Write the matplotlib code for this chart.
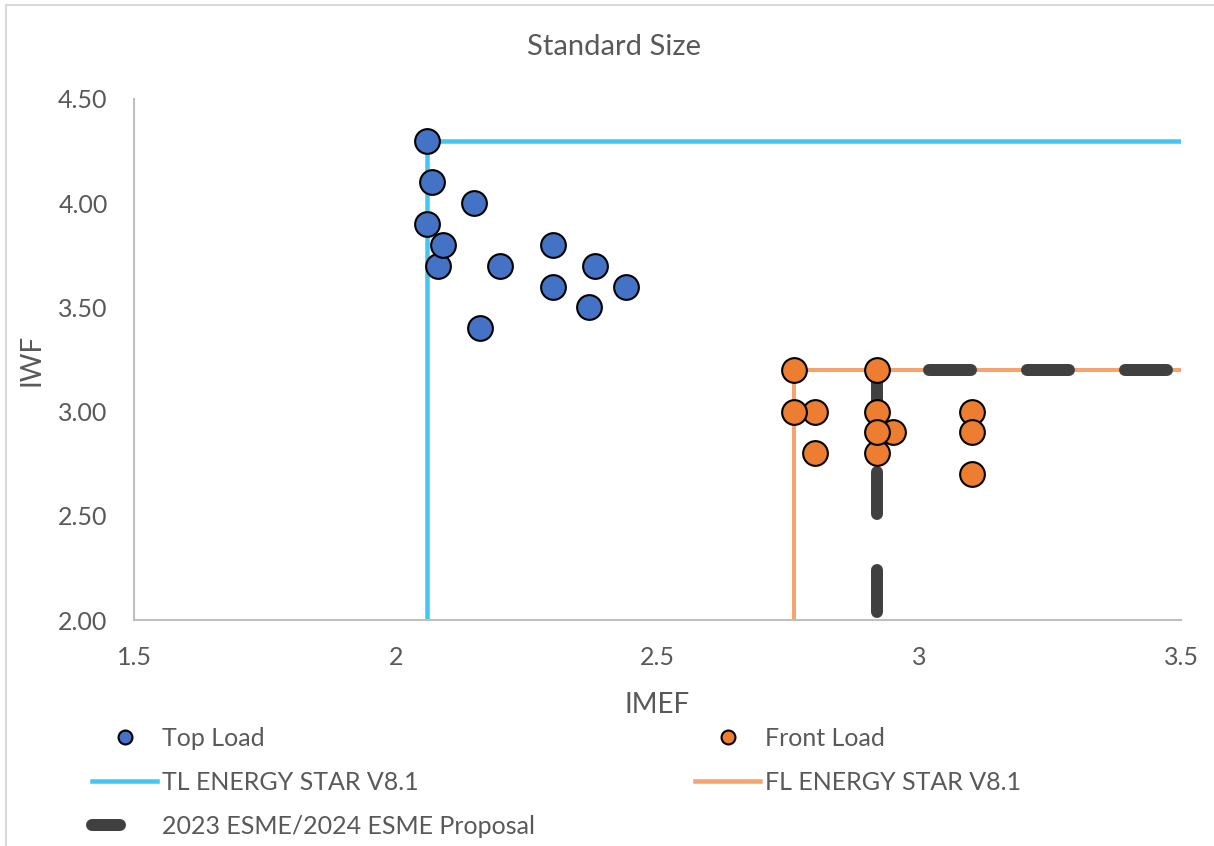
import matplotlib
matplotlib.use("Agg")
import matplotlib.pyplot as plt
from matplotlib.lines import Line2D
from matplotlib.patches import Rectangle

# ---- data ----
title = "Standard Size"
x_label = "IMEF"
y_label = "IWF"

top_load_imef = [2.06, 2.07, 2.15, 2.06, 2.08, 2.09, 2.20, 2.30, 2.38, 2.30, 2.44, 2.37, 2.16]
top_load_iwf = [4.30, 4.10, 4.00, 3.90, 3.70, 3.80, 3.70, 3.80, 3.70, 3.60, 3.60, 3.50, 3.40]

front_load_imef = [2.76, 2.92, 2.80, 2.76, 2.80, 2.95, 2.92, 2.92, 2.92, 3.10, 3.10, 3.10]
front_load_iwf = [3.20, 3.20, 3.00, 3.00, 2.80, 2.90, 3.00, 2.80, 2.90, 3.00, 2.90, 2.70]

tl_energy_star_imef = [2.06, 2.06, 3.50]
tl_energy_star_iwf = [2.00, 4.30, 4.30]

fl_energy_star_imef = [2.76, 2.76, 3.50]
fl_energy_star_iwf = [2.00, 3.20, 3.20]

esme_imef = [2.92, 2.92, 3.50]
esme_iwf = [2.00, 3.20, 3.20]

x_ticks = [1.5, 2.0, 2.5, 3.0, 3.5]
x_tick_labels = ["1.5", "2", "2.5", "3", "3.5"]
y_ticks = [2.0, 2.5, 3.0, 3.5, 4.0, 4.5]
y_tick_labels = ["2.00", "2.50", "3.00", "3.50", "4.00", "4.50"]

legend_labels = ["Top Load", "Front Load", "TL ENERGY STAR V8.1",
                 "FL ENERGY STAR V8.1", "2023 ESME/2024 ESME Proposal"]

# ---- style ----
BLUE = "#4472C4"
ORANGE = "#ED7D31"
TL_LINE = "#44C6F2"
FL_LINE = "#F4A46C"
ESME = "#404040"
TEXT = "#595959"
SPINE = "#BFBFBF"

plt.rcParams["font.family"] = ["Lato", "DejaVu Sans"]
plt.rcParams["lines.scale_dashes"] = False

W, H = 1214, 846
fig = plt.figure(figsize=(W / 100, H / 100), dpi=100)
fig.patch.set_facecolor("white")

def px(v):
    return v * 0.72  # pixels -> points at 100 dpi

ax = fig.add_axes([134 / W, 1 - 620 / H, (1181 - 134) / W, (620 - 99) / H])
ax.set_xlim(1.5, 3.5)
ax.set_ylim(2.0, 4.5)

ax.plot(tl_energy_star_imef, tl_energy_star_iwf, color=TL_LINE, lw=px(4.5),
        solid_joinstyle="miter", zorder=2)
ax.plot(fl_energy_star_imef, fl_energy_star_iwf, color=FL_LINE, lw=px(4),
        solid_joinstyle="miter", zorder=2)
ax.plot(esme_imef, esme_iwf, color=ESME, lw=px(12),
        linestyle=(px(90), (px(42), px(56))), dash_capstyle="round",
        zorder=3, clip_on=False)

ms = 17.8
for xs, ys, c in [(top_load_imef, top_load_iwf, BLUE),
                  (front_load_imef, front_load_iwf, ORANGE)]:
    for xv, yv in zip(xs, ys):
        ax.plot([xv], [yv], "o", ms=ms, mfc=c, mec="black", mew=1.5,
                zorder=5, clip_on=False)

for side in ["top", "right"]:
    ax.spines[side].set_visible(False)
for side in ["left", "bottom"]:
    ax.spines[side].set_color(SPINE)
    ax.spines[side].set_linewidth(1.5)

ax.set_xticks(x_ticks, x_tick_labels)
ax.set_yticks(y_ticks, y_tick_labels)
ax.tick_params(axis="x", length=0, pad=18.5, labelsize=18, labelcolor=TEXT)
ax.tick_params(axis="y", length=0, pad=19, labelsize=18, labelcolor=TEXT)

ax.set_xlabel(x_label, fontsize=20, color=TEXT)
ax.xaxis.label.set_va("center")
ax.xaxis.set_label_coords(0.5, -(705 - 620) / 521)
ax.set_ylabel(y_label, fontsize=20, color=TEXT)
ax.yaxis.label.set_va("center")
ax.yaxis.set_label_coords(-(134 - 32) / 1047, 0.5)

fig.text(614 / W, 1 - 47 / H, title, ha="center", va="center",
         fontsize=21, color=TEXT)

# ---- legend (two columns) ----
h_top = Line2D([], [], ls="none", marker="o", ms=10, mfc=BLUE, mec="black", mew=1.5)
h_front = Line2D([], [], ls="none", marker="o", ms=10, mfc=ORANGE, mec="black", mew=1.5)
h_tl = Line2D([], [], color=TL_LINE, lw=px(4.5))
h_fl = Line2D([], [], color=FL_LINE, lw=px(4.5))
h_esme = Line2D([], [], color=ESME, lw=px(12), linestyle=(0, (px(28), px(100))),
                dash_capstyle="round")

common = dict(frameon=False, fontsize=18, labelcolor=TEXT, borderpad=0,
              borderaxespad=0, handlelength=2.6, handletextpad=0.2,
              labelspacing=0.83, loc="upper left")
fig.legend([h_top, h_tl, h_esme], [legend_labels[0], legend_labels[2], legend_labels[4]],
           bbox_to_anchor=(92 / W, 1 - 727 / H), **common)
fig.legend([h_front, h_fl], [legend_labels[1], legend_labels[3]],
           bbox_to_anchor=(695 / W, 1 - 727 / H), **common)

# outer chart border
fig.add_artist(Rectangle((5.5 / W, -0.1), 1.2, 1.1 - 5.5 / H, transform=fig.transFigure,
                         fill=False, edgecolor="#D9D9D9", lw=1.5))

fig.savefig("out.png", dpi=100)
